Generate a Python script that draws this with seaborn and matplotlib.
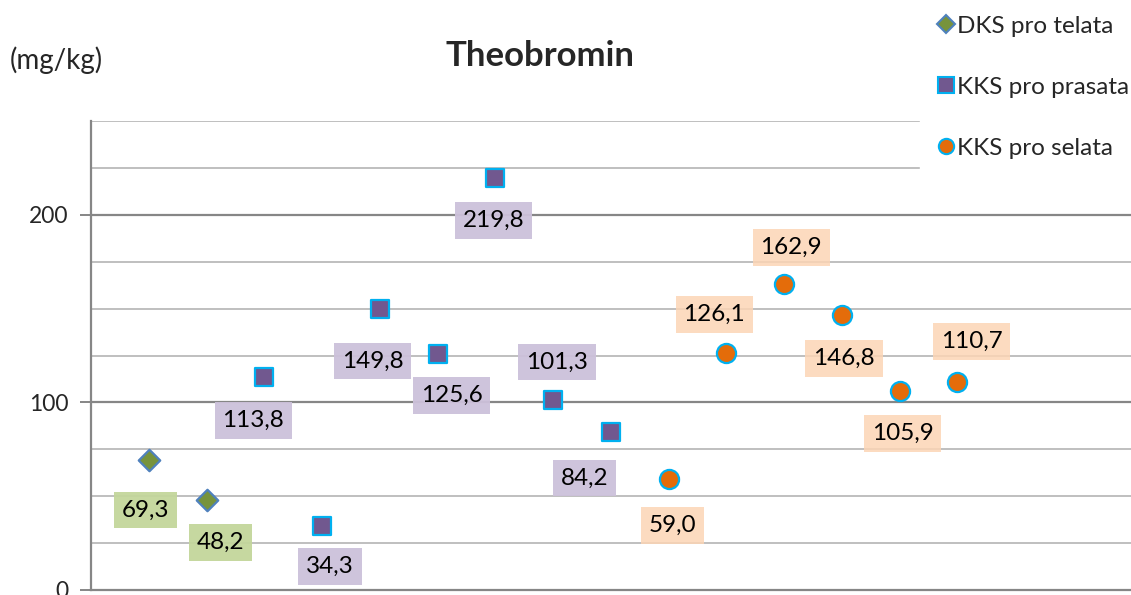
import matplotlib
matplotlib.use("Agg")
import matplotlib.pyplot as plt
import seaborn as sns
import pandas as pd
import numpy as np
from matplotlib.lines import Line2D

# ---- data ----
series_names = ["DKS pro telata", "KKS pro prasata", "KKS pro selata"]
dks_telata = [69.3, 48.2]
kks_prasata = [113.8, 34.3, 149.8, 125.6, 219.8, 101.3, 84.2]
kks_selata = [59.0, 126.1, 162.9, 146.8, 105.9, 110.7]
y_ticks = [0, 100, 200]
title = "Theobromin"
y_unit = "(mg/kg)"

# label offsets in pixels (style/position only)
label_offsets = [(-3, -50), (14, -43),
                 (-11, -44), (8, -41), (-7, -52), (14, -41), (-2, -43), (4, 38), (-26, -46),
                 (4, -46), (-12, 39), (7, 37), (2, -44), (3, -42), (14, 41)]

values = dks_telata + kks_prasata + kks_selata
groups = ([series_names[0]] * len(dks_telata) + [series_names[1]] * len(kks_prasata)
          + [series_names[2]] * len(kks_selata))
df = pd.DataFrame({"x": np.arange(1, len(values) + 1), "y": values, "series": groups})

fills = {series_names[0]: "#77933c", series_names[1]: "#71588f", series_names[2]: "#e46c0a"}
edges = {series_names[0]: "#4f81bd", series_names[1]: "#00b0f0", series_names[2]: "#00b0f0"}
markers = {series_names[0]: "D", series_names[1]: "s", series_names[2]: "o"}
sizes = {series_names[0]: 120, series_names[1]: 170, series_names[2]: 190}
box_colors = {series_names[0]: "#c3d69b", series_names[1]: "#ccc1da", series_names[2]: "#fcd5b5"}

sns.set_theme(style="white")
plt.rcParams["font.family"] = ["Lato", "DejaVu Sans"]

fig = plt.figure(figsize=(11.31, 5.95), dpi=100)
ax = fig.add_axes([91 / 1131, 5 / 595, 1 - 91 / 1131 + 0.01, 469 / 595])

# gridlines
for v in np.arange(25, 251, 25):
    major = (v % 100 == 0)
    ax.axhline(v, color="#868686" if major else "#bfbfbf", lw=1.6 if major else 1.4, zorder=0)

for name in series_names:
    sub = df[df["series"] == name]
    sns.scatterplot(data=sub, x="x", y="y", marker=markers[name], s=sizes[name],
                    color=fills[name], edgecolor=edges[name], linewidth=1.6,
                    ax=ax, zorder=3, legend=False)

for (xi, yi, g), (dx, dy) in zip(zip(df["x"], df["y"], df["series"]), label_offsets):
    ax.annotate(f"{yi:.1f}".replace(".", ","), (xi, yi), xytext=(dx, dy),
                textcoords="offset pixels", ha="center", va="center", fontsize=17.5,
                color="#000000", zorder=4,
                bbox=dict(boxstyle="square,pad=0.32", fc=box_colors[g], ec="none",
                          alpha=0.95 if g != series_names[2] else 0.85))

ax.set_xlim(0, 18.2)
ax.set_ylim(0, 250)
ax.set_yticks(y_ticks)
ax.set_xticks([])
ax.set_xlabel("")
ax.set_ylabel("")
ax.tick_params(axis="y", length=8, width=1.4, color="#868686", labelsize=16.5, pad=8, left=True)
for s in ["top", "right"]:
    ax.spines[s].set_visible(False)
for s in ["left", "bottom"]:
    ax.spines[s].set_color("#868686")
    ax.spines[s].set_linewidth(1.6)

fig.text(540 / 1131, 1 - 56 / 595, title, ha="center", va="center", fontsize=25, fontweight="bold")
fig.text(10 / 1131, 1 - 60 / 595, y_unit, ha="left", va="center", fontsize=20)

handles = [Line2D([], [], linestyle="none", marker=markers[n], markersize=11 if n != series_names[0] else 9,
                  markerfacecolor=fills[n], markeredgecolor=edges[n], markeredgewidth=1.5)
           for n in series_names]
leg = fig.legend(handles, series_names, loc="upper left", bbox_to_anchor=(920 / 1131, 1.0 + 2 / 595),
                 frameon=True, fontsize=17.5, labelspacing=1.65, handlelength=0.7,
                 handletextpad=0.1, borderpad=0.72, borderaxespad=0, fancybox=False)
leg.get_frame().set_facecolor("white")
leg.get_frame().set_edgecolor("white")
leg.get_frame().set_alpha(1)
leg.set_zorder(10)

fig.savefig("out.png", dpi=100)
